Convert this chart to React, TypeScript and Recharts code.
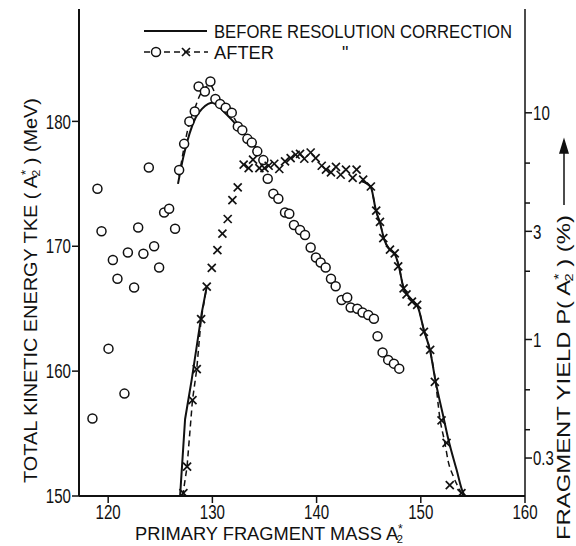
import React from 'react';
import { ComposedChart, Line, Scatter, XAxis, YAxis } from 'recharts';

// [mass, TKE MeV] open circles, after resolution correction
const tkeAfterPoints: [number, number][] = [
  [118.49, 156.2], [118.97, 174.6], [119.36, 171.2], [120.03, 161.8], [120.45, 168.9],
  [120.89, 167.4], [121.56, 158.2], [121.89, 169.5], [122.49, 166.7], [122.88, 171.5],
  [123.38, 169.4], [123.9, 176.3], [124.41, 170.0], [124.89, 168.3], [125.37, 172.7],
  [125.85, 173.0], [126.42, 171.4], [126.81, 176.1], [127.29, 178.2], [127.79, 180.0],
  [128.31, 180.8], [128.68, 182.8], [129.28, 182.4], [129.81, 183.2], [130.29, 181.8],
  [130.74, 181.4], [131.28, 181.1], [131.86, 180.7], [132.44, 179.6], [132.87, 179.3],
  [133.36, 178.6], [133.78, 178.3], [134.31, 177.6], [134.89, 176.9], [135.31, 175.4],
  [135.85, 174.2], [136.33, 173.8], [136.97, 172.7], [137.38, 172.6], [137.83, 171.7],
  [138.41, 171.3], [138.89, 170.9], [139.43, 169.9], [139.94, 169.1], [140.39, 168.7],
  [140.87, 168.3], [141.38, 167.4], [141.83, 166.8], [142.4, 165.7], [142.94, 165.9],
  [143.27, 165.1], [143.91, 165.0], [144.41, 164.7], [144.96, 164.5], [145.5, 164.2],
  [145.85, 162.8], [146.33, 161.5], [146.87, 160.9], [147.42, 160.6], [147.93, 160.2],
];

// TKE curves near the peak
const tkeBeforeLine: [number, number][] = [
  [126.7, 175.0], [127.2, 177.1], [127.8, 179.0], [128.4, 180.3], [129.0, 181.0],
  [129.6, 181.4], [130.0, 181.5], [130.6, 181.2], [131.3, 180.6], [132.0, 180.0],
  [132.8, 179.2], [133.6, 178.5], [134.3, 177.7],
];
const tkeAfterLine: [number, number][] = [
  [126.8, 175.6], [127.3, 178.0], [127.8, 179.9], [128.3, 181.0], [128.8, 182.1],
  [129.3, 182.7], [129.8, 182.9], [130.3, 182.2], [130.8, 181.6], [131.3, 181.1],
  [131.9, 180.5], [132.5, 179.7], [133.2, 178.9], [134.0, 178.0],
];

// [mass, yield %] crosses, after resolution correction
const yieldAfterPoints: [number, number][] = [
  [127.22, 0.21], [127.57, 0.275], [128.09, 0.54], [128.5, 0.74], [128.92, 1.23],
  [129.46, 1.71], [129.94, 2.07], [130.48, 2.48], [130.96, 2.93], [131.47, 3.4],
  [131.92, 4.12], [132.43, 4.69], [133.0, 5.91], [133.48, 5.7], [133.9, 6.21],
  [134.51, 5.7], [135.0, 5.7], [135.4, 5.84], [135.94, 5.96], [136.42, 5.65],
  [136.97, 6.1], [137.51, 6.31], [137.99, 6.53], [138.41, 6.59], [138.82, 6.27],
  [139.43, 6.68], [139.91, 6.31], [140.49, 5.84], [140.9, 5.61], [141.38, 5.46],
  [141.86, 5.77], [142.31, 5.33], [142.82, 5.61], [143.46, 5.16], [143.84, 5.61],
  [144.47, 5.07], [145.21, 4.73], [145.72, 3.7], [146.08, 3.3], [146.4, 2.8],
  [147.04, 2.49], [147.5, 2.4], [147.83, 2.1], [148.35, 1.68], [148.63, 1.58],
  [149.15, 1.47], [149.65, 1.42], [150.3, 1.08], [150.9, 0.9], [151.35, 0.65],
  [151.99, 0.44], [152.47, 0.35], [152.78, 0.228], [153.9, 0.21],
];

// yield curves (solid = before, dashed = after)
const yieldBeforeLeft: [number, number][] = [
  [126.9, 0.204], [127.38, 0.445], [128.02, 0.667], [128.5, 0.935], [128.98, 1.31], [129.46, 1.71],
];
const yieldAfterLeft: [number, number][] = [
  [127.15, 0.204], [127.57, 0.275], [128.09, 0.54], [128.5, 0.74], [128.92, 1.23], [129.46, 1.71],
];
const yieldBeforeRight: [number, number][] = [
  [144.3, 5.0], [145.2, 4.7], [145.7, 3.7], [146.1, 3.25], [146.5, 2.75], [147.0, 2.5],
  [147.5, 2.38], [147.9, 2.1], [148.3, 1.72], [148.8, 1.56], [149.3, 1.47], [149.75, 1.38],
  [150.3, 1.1], [150.9, 0.89], [151.4, 0.66], [152.15, 0.46], [152.63, 0.365],
  [153.43, 0.267], [154.06, 0.211], [154.3, 0.204],
];
const yieldAfterRight: [number, number][] = [
  [144.3, 5.0], [145.2, 4.7], [145.7, 3.7], [146.1, 3.25], [146.5, 2.75], [147.0, 2.5],
  [147.5, 2.38], [147.9, 2.1], [148.3, 1.72], [148.8, 1.56], [149.3, 1.47], [149.75, 1.38],
  [150.3, 1.1], [150.9, 0.89], [151.4, 0.66], [151.83, 0.45], [152.31, 0.35],
  [152.63, 0.29], [153.11, 0.25], [153.91, 0.21],
];

const massTicks = [120, 130, 140, 150, 160];
const tkeTicks = [150, 160, 170, 180];
const yieldTicks = [0.3, 0.4, 0.5, 0.6, 0.8, 1, 2, 3, 4, 5, 6, 8, 10];
const yieldLabels = [0.3, 1, 3, 10];

const FONT = "'Liberation Sans', Arial, sans-serif";
const INK = '#111';

const toXY = (pts: [number, number][]) => pts.map(([x, y]) => ({ x, y }));

// narrow digits like the original lettering
const numWidth = (v: number) => {
  const s = String(v);
  return s.replace('.', '').length * 8.4 + (s.includes('.') ? 4 : 0);
};

const OpenCircle = (props: any) => {
  const { cx, cy } = props;
  if (cx == null || cy == null) return null;
  return <circle cx={cx} cy={cy} r={4.5} fill="#fff" stroke={INK} strokeWidth={1.5} />;
};

const Cross = (props: any) => {
  const { cx, cy } = props;
  if (cx == null || cy == null) return null;
  const s = 4;
  return (
    <g stroke={INK} strokeWidth={1.7}>
      <line x1={cx - s} y1={cy - s} x2={cx + s} y2={cy + s} />
      <line x1={cx - s} y1={cy + s} x2={cx + s} y2={cy - s} />
    </g>
  );
};

const BottomTick = (props: any) => {
  const { x, y, payload } = props;
  return (
    <g>
      <line x1={x} y1={y} x2={x} y2={y + 7} stroke={INK} strokeWidth={1.5} />
      <text x={x} y={y + 9} dy="0.72em" textAnchor="middle" fontSize={20} fontFamily={FONT} fill={INK}
        textLength={numWidth(payload.value)} lengthAdjust="spacingAndGlyphs">
        {payload.value}
      </text>
    </g>
  );
};

const LeftTick = (props: any) => {
  const { x, y, payload } = props;
  return (
    <g>
      <line x1={x - 7} y1={y} x2={x} y2={y} stroke={INK} strokeWidth={1.5} />
      <text x={x - 8} y={y} dy="0.36em" textAnchor="end" fontSize={20} fontFamily={FONT} fill={INK}
        textLength={numWidth(payload.value)} lengthAdjust="spacingAndGlyphs">
        {payload.value}
      </text>
    </g>
  );
};

const RightTick = (props: any) => {
  const { x, y, payload } = props;
  const major = yieldLabels.includes(payload.value);
  return (
    <g>
      <line x1={x} y1={y} x2={x + (major ? 7 : 5)} y2={y} stroke={INK} strokeWidth={1.5} />
      {major && (
        <text x={x + 8} y={y} dy="0.36em" textAnchor="start" fontSize={20} fontFamily={FONT} fill={INK}
          textLength={numWidth(payload.value)} lengthAdjust="spacingAndGlyphs">
          {payload.value}
        </text>
      )}
    </g>
  );
};

// A2* with the star stacked above the subscript 2
const AStar = () => (
  <>
    <tspan>A</tspan>
    <tspan fontSize={12} dy={-7}>*</tspan>
    <tspan fontSize={11} dy={10} dx={-6}>2</tspan>
    <tspan dy={-3}> </tspan>
  </>
);

export default function App() {
  const textStyle = { fontFamily: FONT, fontSize: 18, fill: INK };
  return (
    <div style={{ position: 'absolute', left: 0, top: 0, width: 576, height: 546, background: '#fff' }}>
      <ComposedChart width={576} height={546} margin={{ top: 9, right: 0, bottom: 0, left: 0 }}>
        <XAxis
          xAxisId="m"
          dataKey="x"
          type="number"
          domain={[117.2, 160]}
          ticks={massTicks}
          height={50}
          tickSize={0}
          tickMargin={0}
          tick={<BottomTick />}
          axisLine={{ stroke: INK, strokeWidth: 2 }}
          allowDataOverflow
        />
        <XAxis
          xAxisId="top"
          orientation="top"
          type="number"
          domain={[117.2, 160]}
          height={0}
          tick={false}
          tickLine={false}
          axisLine={{ stroke: INK, strokeWidth: 1.5 }}
        />
        <YAxis
          yAxisId="tke"
          orientation="left"
          type="number"
          width={79}
          domain={[150, 189]}
          ticks={tkeTicks}
          tickSize={0}
          tickMargin={0}
          tick={<LeftTick />}
          axisLine={{ stroke: INK, strokeWidth: 2 }}
          allowDataOverflow
        />
        <YAxis
          yAxisId="yield"
          orientation="right"
          type="number"
          scale="log"
          width={51}
          domain={[0.204, 28.7]}
          ticks={yieldTicks}
          tickSize={0}
          tickMargin={0}
          tick={<RightTick />}
          axisLine={{ stroke: INK, strokeWidth: 1.5 }}
          allowDataOverflow
        />

        <Line data={toXY(tkeBeforeLine)} dataKey="y" xAxisId="m" yAxisId="tke" type="monotone"
          stroke={INK} strokeWidth={2} dot={false} isAnimationActive={false} />
        <Line data={toXY(tkeAfterLine)} dataKey="y" xAxisId="m" yAxisId="tke" type="monotone"
          stroke={INK} strokeWidth={1.5} strokeDasharray="6 4" dot={false} isAnimationActive={false} />
        <Line data={toXY(yieldBeforeLeft)} dataKey="y" xAxisId="m" yAxisId="yield" type="linear"
          stroke={INK} strokeWidth={2} dot={false} isAnimationActive={false} />
        <Line data={toXY(yieldAfterLeft)} dataKey="y" xAxisId="m" yAxisId="yield" type="linear"
          stroke={INK} strokeWidth={1.5} strokeDasharray="6 4" dot={false} isAnimationActive={false} />
        <Line data={toXY(yieldBeforeRight)} dataKey="y" xAxisId="m" yAxisId="yield" type="monotone"
          stroke={INK} strokeWidth={2} dot={false} isAnimationActive={false} />
        <Line data={toXY(yieldAfterRight)} dataKey="y" xAxisId="m" yAxisId="yield" type="monotone"
          stroke={INK} strokeWidth={1.5} strokeDasharray="6 4" dot={false} isAnimationActive={false} />

        <Scatter data={toXY(tkeAfterPoints)} dataKey="y" xAxisId="m" yAxisId="tke"
          shape={<OpenCircle />} isAnimationActive={false} />
        <Scatter data={toXY(yieldAfterPoints)} dataKey="y" xAxisId="m" yAxisId="yield"
          shape={<Cross />} isAnimationActive={false} />
      </ComposedChart>

      <svg width={576} height={546} style={{ position: 'absolute', left: 0, top: 0, pointerEvents: 'none' }}>
        {/* legend */}
        <line x1={144} y1={31} x2={207} y2={31} stroke={INK} strokeWidth={2} />
        <text x={214} y={38} style={textStyle} textLength={298} lengthAdjust="spacingAndGlyphs">
          BEFORE RESOLUTION CORRECTION
        </text>
        <line x1={144} y1={52} x2={208} y2={52} stroke={INK} strokeWidth={1.5} strokeDasharray="6 4" />
        <circle cx={156} cy={52} r={4.5} fill="#fff" stroke={INK} strokeWidth={1.5} />
        <Cross cx={186} cy={52} />
        <text x={214} y={59} style={textStyle} textLength={60} lengthAdjust="spacingAndGlyphs">AFTER</text>
        <text x={342} y={59} style={textStyle}>"</text>

        {/* axis titles */}
        <text x={135} y={540} style={textStyle} textLength={268} lengthAdjust="spacingAndGlyphs">
          PRIMARY FRAGMENT MASS <AStar />
        </text>
        <text transform="translate(37,483) rotate(-90)" style={textStyle} textLength={385} lengthAdjust="spacingAndGlyphs">
          TOTAL KINETIC ENERGY TKE ( <AStar />) (MeV)
        </text>
        <text transform="translate(570,540) rotate(-90)" style={textStyle} textLength={325} lengthAdjust="spacingAndGlyphs">
          FRAGMENT YIELD P( <AStar />) (%)
        </text>
        <g stroke={INK} strokeWidth={1.5} fill={INK}>
          <line x1={564} y1={205} x2={564} y2={152} />
          <path d="M564,140 L560,153 L568,153 Z" />
        </g>
      </svg>
    </div>
  );
}
